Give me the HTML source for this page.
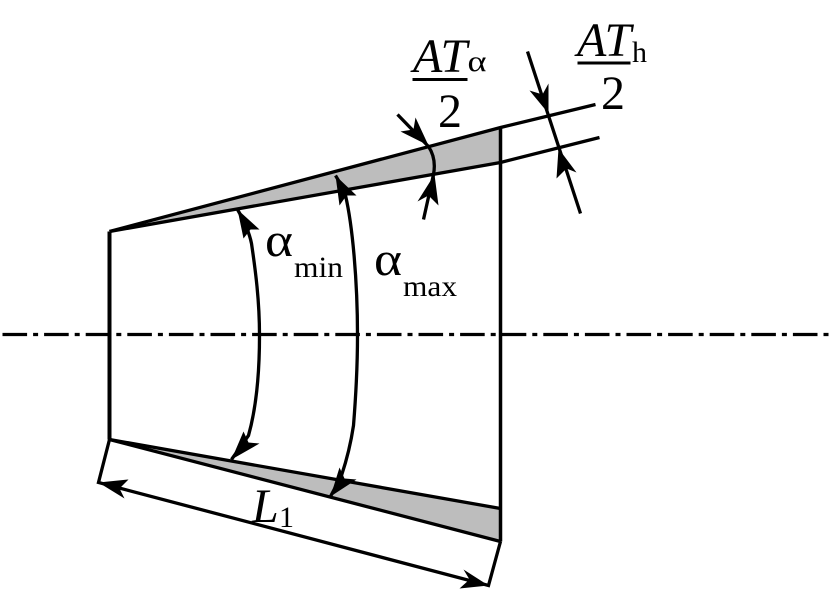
<!DOCTYPE html>
<html>
<head>
<meta charset="utf-8">
<style>
html,body{margin:0;padding:0;background:#fff}
svg{display:block}
text{font-family:"Liberation Serif",serif;fill:#000}
.i{font-style:italic}
</style>
</head>
<body>
<svg width="840" height="595" viewBox="0 0 840 595" xmlns="http://www.w3.org/2000/svg">
<g transform="translate(0.5,0.5)">
<polygon points="109,231 500,127 500,162" fill="#bdbdbd"/>
<polygon points="109,439 500,508 500,541" fill="#bdbdbd"/>
<g fill="none" stroke="#000" stroke-width="3.3">
<path d="M2,334 H828" stroke-dasharray="24.6 6 5 6"/>
<path d="M109,231 V439" stroke-width="4"/>
<path d="M500,127 V541" stroke-width="3.5"/>
<path d="M109,231 L500,127 L595,104"/>
<path d="M109,231 L500,162 L599,137"/>
<path d="M109,439 L500,508"/>
<path d="M109,439 L500,541"/>
<path d="M109,439 L98,482 L488,585 L500,541"/>
<path d="M527,51 L580,213"/>
<path d="M397,114 L428,146 Q436,158 433,174 L423,219"/>
<path d="M237,209 Q248,228 251,243 C255,270 259,300 259,335 C259,380 255,410 248,435 L231,459"/>
<path d="M335,175 Q342,186 345,195 C352,225 357,280 357,335 C357,370 355,400 353,425 C350,445 346,460 341,475 L330,496"/>
</g>
<g fill="#000">
<polygon points="237,209 259,229 250,229 243,238"/>
<polygon points="335,175 356,195 346,195 339,205"/>
<polygon points="231,459 259,443 248,442 243,431"/>
<polygon points="330,496 356,479 344,478 339,467"/>
<polygon points="98,482 128,479 119,488 124,498"/>
<polygon points="488,585 463,569 469,579 459,588"/>
<polygon points="548,113 529,90 542,94 548,83"/>
<polygon points="558,148 576,172 566,168 556,178"/>
<polygon points="428,145 415,117 413,129 400,131"/>
<polygon points="434,174 438,205 428,195 417,201"/>
</g>
<g fill="none" stroke="#000" stroke-width="3">
<path d="M412,79 H467"/>
<path d="M577,62.5 H630"/>
</g>
</g>
<text class="i" x="413" y="72" font-size="48">AT</text>
<text x="467.500" y="71" font-size="30" textLength="19" lengthAdjust="spacingAndGlyphs">α</text>
<text x="438" y="127" font-size="48">2</text>
<text class="i" x="577" y="56" font-size="48">AT</text>
<text x="632" y="62" font-size="30">h</text>
<text x="601" y="109" font-size="48">2</text>
<text x="265" y="256" font-size="48" textLength="28" lengthAdjust="spacingAndGlyphs">α</text>
<text x="294" y="277" font-size="30" textLength="49" lengthAdjust="spacingAndGlyphs">min</text>
<text x="374" y="275" font-size="48" textLength="28" lengthAdjust="spacingAndGlyphs">α</text>
<text x="403" y="296" font-size="30" textLength="54" lengthAdjust="spacingAndGlyphs">max</text>
<text class="i" x="252" y="522" font-size="48">L</text>
<text x="279" y="527" font-size="30">1</text>
</svg>
</body>
</html>
